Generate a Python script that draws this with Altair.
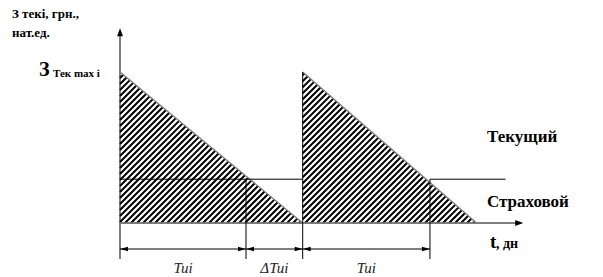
import altair as alt
import numpy as np
import pandas as pd

# ---------------- data (days / stock units) ----------------
cycle_start = [0.0, 14.5]          # moment of delivery (stock jumps to max)
cycle_end = [14.5, 28.3]           # moment stock would reach zero
reorder_time = [10.0, 24.6]        # moment stock reaches safety level
max_stock = 100.0                  # З Тек max і
safety_stock = 29.0                # страховой запас
t_axis_end = 32.0
v_axis_end = 129.0
safety_line_end = 30.6
interval_bounds = [0.0, 10.0, 14.5, 24.6]
interval_labels = ["Tui", "\u0394Tui", "Tui"]

# ---------------- layout ----------------
W, H = 603, 277
X0, Y0 = 120.0, 223.0      # pixel position of origin
KX, KY = 12.6, 1.51        # pixels per day / per stock unit
XDOM = [-X0 / KX, (W - X0) / KX]
YDOM = [-(H - Y0) / KY, Y0 / KY]
dim_v = -(249 - Y0) / KY
low_v = -(259 - Y0) / KY
label_v = -(268 - Y0) / KY
FONT = "Liberation Serif"

xs = alt.Scale(domain=XDOM, nice=False, zero=False)
ys = alt.Scale(domain=YDOM, nice=False, zero=False)


def to_px(t, v):
    return X0 + t * KX, Y0 - v * KY


def to_data(px, py):
    return (px - X0) / KX, (Y0 - py) / KY


def hatch(poly, step=6.0):
    pts = [to_px(*p) for p in poly]
    s = [p[0] + p[1] for p in pts]
    segs = []
    c = np.floor(min(s) / step) * step + step
    while c < max(s):
        inter = []
        for i in range(len(pts)):
            (x1, y1), (x2, y2) = pts[i], pts[(i + 1) % len(pts)]
            s1, s2 = x1 + y1, x2 + y2
            if s1 != s2 and min(s1, s2) <= c <= max(s1, s2):
                u = (c - s1) / (s2 - s1)
                inter.append((x1 + u * (x2 - x1), y1 + u * (y2 - y1)))
        if len(inter) >= 2:
            inter.sort()
            a = to_data(*inter[0])
            b = to_data(*inter[-1])
            segs.append({"x": a[0], "y": a[1], "x2": b[0], "y2": b[1]})
        c += step
    return segs


hatch_rows = []
for s0, e0 in zip(cycle_start, cycle_end):
    hatch_rows += hatch([(s0, 0.0), (s0, max_stock), (e0, 0.0)])
hatch_df = pd.DataFrame(hatch_rows)

# grey triangle outlines
grey_rows = []
for s0, e0 in zip(cycle_start, cycle_end):
    grey_rows.append({"x": s0, "y": max_stock, "x2": e0, "y2": 0.0})
    grey_rows.append({"x": s0, "y": 0.0, "x2": e0, "y2": 0.0})
grey_df = pd.DataFrame(grey_rows)

# black construction lines
black_rows = [
    {"x": 0.0, "y": low_v, "x2": 0.0, "y2": v_axis_end - 3},
    {"x": 0.0, "y": 0.0, "x2": t_axis_end - 0.3, "y2": 0.0},
    {"x": cycle_start[1], "y": low_v, "x2": cycle_start[1], "y2": max_stock},
    {"x": 0.0, "y": safety_stock, "x2": cycle_start[1], "y2": safety_stock},
    {"x": reorder_time[1], "y": safety_stock, "x2": safety_line_end, "y2": safety_stock},
    {"x": interval_bounds[0], "y": dim_v, "x2": interval_bounds[-1], "y2": dim_v},
]
for r in reorder_time:
    black_rows.append({"x": r, "y": low_v, "x2": r, "y2": safety_stock})
axis_df = pd.DataFrame(black_rows[:2])
black_df = pd.DataFrame(black_rows[2:])

UP = "M0,0L-0.375,1L0.375,1Z"
RIGHT = "M0,0L-1,-0.36L-1,0.36Z"
DRIGHT = "M0,0L-1,-0.27L-1,0.27Z"
DLEFT = "M0,0L1,-0.27L1,0.27Z"
arrow_rows = [
    {"x": 0.0, "y": v_axis_end, "shape": UP},
    {"x": t_axis_end, "y": 0.0, "shape": RIGHT},
]
for a, b in zip(interval_bounds[:-1], interval_bounds[1:]):
    arrow_rows.append({"x": a, "y": dim_v, "shape": DLEFT})
    arrow_rows.append({"x": b, "y": dim_v, "shape": DRIGHT})
arrow_df = pd.DataFrame(arrow_rows)

lab_df = pd.DataFrame({
    "x": [(a + b) / 2 for a, b in zip(interval_bounds[:-1], interval_bounds[1:])],
    "y": [label_v] * len(interval_labels),
    "label": interval_labels,
})


def rules(df, color, width):
    return alt.Chart(df).mark_rule(color=color, strokeWidth=width).encode(
        x=alt.X("x:Q", scale=xs, axis=None),
        y=alt.Y("y:Q", scale=ys, axis=None),
        x2="x2:Q",
        y2="y2:Q",
    )


def text(t, px, py, size):
    return alt.Chart(pd.DataFrame({"t": [t]})).mark_text(
        font=FONT, fontSize=size, fontWeight="bold",
        align="left", baseline="alphabetic", color="black",
    ).encode(text="t:N", x=alt.value(px), y=alt.value(py))


axis_layer = rules(axis_df, "black", 1)
hatch_layer = rules(hatch_df, "black", 2.0)
grey_layer = rules(grey_df, "#808080", 1.3)
black_layer = rules(black_df, "black", 1)

arrows = alt.Chart(arrow_df).mark_point(filled=True, opacity=1, strokeWidth=0).encode(
    x=alt.X("x:Q", scale=xs, axis=None),
    y=alt.Y("y:Q", scale=ys, axis=None),
    shape=alt.Shape("shape:N", scale=None),
    size=alt.value(256),
    color=alt.value("black"),
)

labels = alt.Chart(lab_df).mark_text(
    font=FONT, fontSize=15, fontStyle="italic", color="#222222",
    baseline="middle", align="center",
).encode(
    x=alt.X("x:Q", scale=xs, axis=None),
    y=alt.Y("y:Q", scale=ys, axis=None),
    text="label:N",
)

texts = [
    text("З текі, грн.,", 12, 18, 13),
    text("нат.ед.", 12, 37, 13),
    text("З", 39, 76, 20),
    text("Тек max і", 53, 77, 11),
    text("Текущий", 487, 142, 17),
    text("Страховой", 487, 207, 17),
    text("t", 490, 248, 19),
    text(", дн", 496, 248, 14),
]

chart = alt.layer(
    axis_layer, hatch_layer, grey_layer, black_layer, arrows, labels, *texts
).properties(
    width=W, height=H,
    autosize=alt.AutoSizeParams(type="none"),
    padding=0,
    background="white",
).configure_view(stroke=None)

chart.save("out.html", embed_options={"renderer": "svg", "actions": False})
